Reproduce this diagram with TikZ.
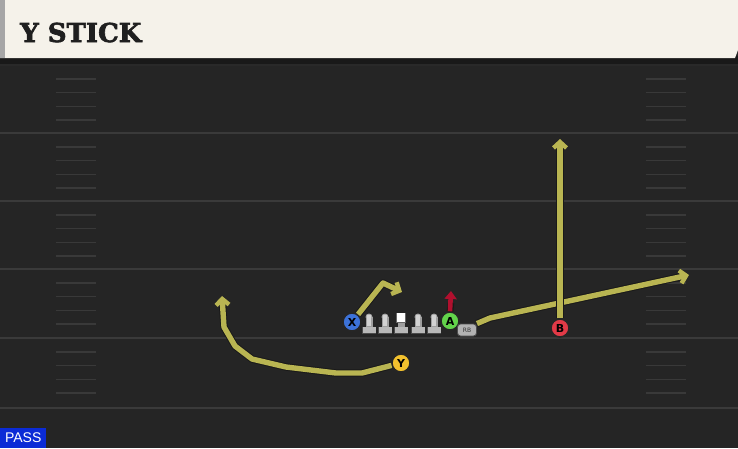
\documentclass[tikz,border=0pt]{standalone}
\usepackage{fontspec}
\usetikzlibrary{arrows.meta}
\newfontfamily\titlefont{DejaVu Serif}[FakeBold=2.5]
\newfontfamily\labfont{DejaVu Sans}
\newfontfamily\passfont{Liberation Sans}
\definecolor{fieldc}{HTML}{252525}
\definecolor{yardc}{HTML}{3A3A3A}
\definecolor{hashc}{HTML}{393939}
\definecolor{headc}{HTML}{F5F2EA}
\definecolor{routec}{HTML}{B9B552}
\definecolor{xblue}{HTML}{3C72D8}
\definecolor{agreen}{HTML}{63D34B}
\definecolor{bred}{HTML}{E23A47}
\definecolor{yyellow}{HTML}{F2C12E}
\definecolor{blockred}{HTML}{B0102E}
\definecolor{passblue}{HTML}{0B2BD6}
\tikzset{
  route/.style={draw=routec, line width=5.4pt, line join=round,
    -{Straight Barb[length=6pt,width=13pt,line width=4.4pt]},
    preaction={draw=black!90, line width=7.4pt, line join=round}},
  blockarrow/.style={draw=blockred, line width=4.6pt, -{Triangle[length=8pt,width=12pt]}},
  player/.style={circle, draw=black!85, line width=1.5pt, minimum size=18pt, inner sep=0pt,
    font=\labfont\bfseries\fontsize{11}{11}\selectfont, text=black},
  rbbox/.style={draw=black!70, line width=0.9pt, fill=gray!60, rounded corners=3pt,
    minimum width=19pt, minimum height=12pt, inner sep=0pt,
    font=\labfont\fontsize{6}{6}\selectfont, text=black!80},
  yardline/.style={draw=yardc, line width=2pt},
  hashmark/.style={draw=hashc, line width=1.6pt},
  lman/.pic={
    \fill[black!70] (-7,3.5) rectangle (7,10.5);
    \fill[gray!55] (-6.5,4) rectangle (6.5,10);
    \fill[gray!75] (-3.5,-6) rectangle (3.5,4.2);
    \fill[gray!75] (0,-6) circle (3.5);
    \fill[gray!35] (-2.4,-6) rectangle (2.4,3);
    \fill[gray!35] (0,-6) circle (2.4);
  },
  cman/.pic={
    \fill[black!70] (-7,3.5) rectangle (7,10.5);
    \fill[gray!55] (-6.5,4) rectangle (6.5,10);
    \fill[gray!75] (-3.5,-1) rectangle (3.5,4.2);
    \fill[black!60] (-5,-10.5) rectangle (5,0);
    \fill[white] (-4.4,-9.9) rectangle (4.4,-0.6);
  }
}
\begin{document}
\begin{tikzpicture}[x=1pt,y=-1pt]
\useasboundingbox (0,0) rectangle (738,448);
\fill[fieldc] (0,0) rectangle (738,448);
% header
\fill[black!90] (0,56) rectangle (738,64);
\fill[headc] (0,0) -- (738,0) -- (738,50) -- (735,58) -- (0,58) -- cycle;
\fill[gray!70] (0,0) rectangle (5,58);
\node[anchor=base west, inner sep=0pt, text=black!88,
  font=\titlefont\bfseries\fontsize{26}{26}\selectfont] (title) at (20,42) {Y STICK};
% yard lines
\draw[draw=black!30!yardc, line width=1.5pt] (0,65) -- (738,65);
\foreach \yy in {133,201,269,338,408}{
  \draw[yardline] (0,\yy) -- (738,\yy);
}
% hash marks
\foreach \t/\b in {65/133,133/201,201/269,269/338,338/408}{
  \foreach \k in {1,2,3,4}{
    \pgfmathsetmacro{\hy}{\t+13.8*\k}
    \draw[hashmark] (56,\hy) -- (96,\hy);
    \draw[hashmark] (646,\hy) -- (686,\hy);
  }
}
% offensive line
\pic at (369,323) {lman};
\pic at (385,323) {lman};
\pic at (401,323) {cman};
\pic at (418,323) {lman};
\pic at (434,323) {lman};
% players
\node[player, fill=xblue] (X) at (352,322) {X};
\node[player, fill=agreen] (A) at (450,321) {A};
\node[player, fill=bred] (B) at (560,328) {B};
\node[player, fill=yyellow] (Y) at (401,363) {Y};
\node[rbbox] (RB) at (467,330) {RB};
% route end points
\coordinate (xend) at (402,292);
\coordinate (aend) at (451,291);
\coordinate (bend) at (560,139);
\coordinate (rbend) at (689,275);
\coordinate (yend) at (222,296);
% routes
\draw[route] (X) -- (383,283) -- (xend);
\draw[route] (Y) -- (362,373) -- (336,373) -- (286,367) -- (252,359) -- (235,346) -- (224,327) -- (yend);
\draw[route] (RB.north east) -- (490,318) -- (rbend);
\draw[route] (B) -- (bend);
\draw[draw=black!90, line width=6.6pt] (A.north) -- (451,303);
\draw[blockarrow] (A.north) -- (aend);
% pass tag
\node[fill=passblue, anchor=south west, minimum width=46pt, minimum height=20pt, inner sep=0pt,
  text=white, font=\passfont\fontsize{14}{14}\selectfont] (pass) at (0,448) {PASS};
\end{tikzpicture}
\end{document}
